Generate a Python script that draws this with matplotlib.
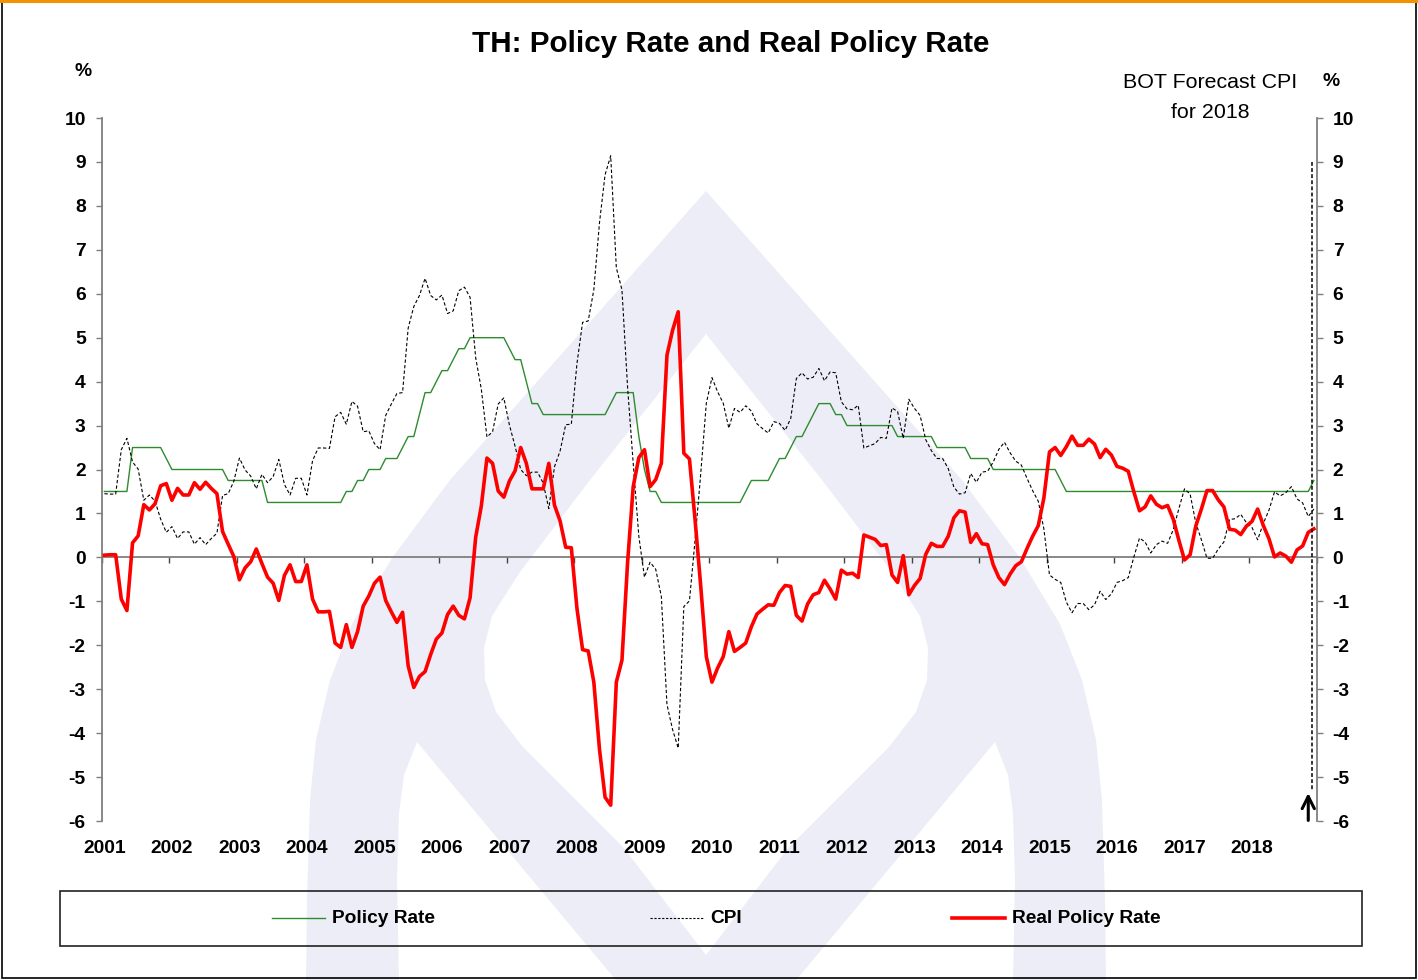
import numpy as np
import matplotlib
matplotlib.use("Agg")
import matplotlib.pyplot as plt
from matplotlib import font_manager as fm
from matplotlib import transforms
from matplotlib.patches import Polygon, Rectangle
from matplotlib.lines import Line2D

# ---------------- data (monthly, Jan 2001 - Dec 2018) ----------------
years = list(range(2001, 2019))

policy_rate = [
    1.5, 1.5, 1.5, 1.5, 1.5, 2.5, 2.5, 2.5, 2.5, 2.5, 2.5, 2.25,          # 2001
    2.0, 2.0, 2.0, 2.0, 2.0, 2.0, 2.0, 2.0, 2.0, 2.0, 1.75, 1.75,          # 2002
    1.75, 1.75, 1.75, 1.75, 1.75, 1.25, 1.25, 1.25, 1.25, 1.25, 1.25, 1.25,  # 2003
    1.25, 1.25, 1.25, 1.25, 1.25, 1.25, 1.25, 1.5, 1.5, 1.75, 1.75, 2.0,   # 2004
    2.0, 2.0, 2.25, 2.25, 2.25, 2.5, 2.75, 2.75, 3.25, 3.75, 3.75, 4.0,    # 2005
    4.25, 4.25, 4.5, 4.75, 4.75, 5.0, 5.0, 5.0, 5.0, 5.0, 5.0, 5.0,        # 2006
    4.75, 4.5, 4.5, 4.0, 3.5, 3.5, 3.25, 3.25, 3.25, 3.25, 3.25, 3.25,     # 2007
    3.25, 3.25, 3.25, 3.25, 3.25, 3.25, 3.5, 3.75, 3.75, 3.75, 3.75, 2.75,  # 2008
    2.0, 1.5, 1.5, 1.25, 1.25, 1.25, 1.25, 1.25, 1.25, 1.25, 1.25, 1.25,   # 2009
    1.25, 1.25, 1.25, 1.25, 1.25, 1.25, 1.5, 1.75, 1.75, 1.75, 1.75, 2.0,  # 2010
    2.25, 2.25, 2.5, 2.75, 2.75, 3.0, 3.25, 3.5, 3.5, 3.5, 3.25, 3.25,     # 2011
    3.0, 3.0, 3.0, 3.0, 3.0, 3.0, 3.0, 3.0, 3.0, 2.75, 2.75, 2.75,         # 2012
    2.75, 2.75, 2.75, 2.75, 2.5, 2.5, 2.5, 2.5, 2.5, 2.5, 2.25, 2.25,      # 2013
    2.25, 2.25, 2.0, 2.0, 2.0, 2.0, 2.0, 2.0, 2.0, 2.0, 2.0, 2.0,          # 2014
    2.0, 2.0, 1.75, 1.5, 1.5, 1.5, 1.5, 1.5, 1.5, 1.5, 1.5, 1.5,           # 2015
    1.5, 1.5, 1.5, 1.5, 1.5, 1.5, 1.5, 1.5, 1.5, 1.5, 1.5, 1.5,            # 2016
    1.5, 1.5, 1.5, 1.5, 1.5, 1.5, 1.5, 1.5, 1.5, 1.5, 1.5, 1.5,            # 2017
    1.5, 1.5, 1.5, 1.5, 1.5, 1.5, 1.5, 1.5, 1.5, 1.5, 1.5, 1.75,           # 2018
]

cpi = [
    1.45, 1.44, 1.44, 2.45, 2.71, 2.17, 2.01, 1.30, 1.42, 1.28, 0.87, 0.57,
    0.70, 0.43, 0.58, 0.58, 0.30, 0.45, 0.29, 0.43, 0.55, 1.41, 1.45, 1.73,
    2.26, 1.99, 1.85, 1.56, 1.89, 1.70, 1.84, 2.23, 1.66, 1.42, 1.80, 1.80,
    1.42, 2.20, 2.49, 2.49, 2.48, 3.20, 3.30, 3.03, 3.55, 3.44, 2.86, 2.88,
    2.59, 2.45, 3.23, 3.49, 3.73, 3.75, 5.22, 5.71, 5.96, 6.35, 5.96, 5.86,
    5.97, 5.55, 5.61, 6.07, 6.15, 5.92, 4.54, 3.83, 2.74, 2.86, 3.49, 3.63,
    3.01, 2.53, 2.00, 1.86, 1.94, 1.94, 1.69, 1.11, 2.06, 2.42, 3.02, 3.03,
    4.41, 5.35, 5.38, 6.09, 7.61, 8.71, 9.14, 6.59, 6.09, 3.87, 2.14, 0.48,
    -0.45, -0.11, -0.27, -0.89, -3.35, -3.92, -4.34, -1.12, -0.99, 0.40, 1.90, 3.51,
    4.09, 3.77, 3.51, 2.94, 3.39, 3.30, 3.45, 3.33, 3.04, 2.93, 2.83, 3.09,
    3.05, 2.89, 3.16, 4.07, 4.20, 4.06, 4.10, 4.30, 4.02, 4.22, 4.20, 3.54,
    3.38, 3.36, 3.46, 2.49, 2.54, 2.59, 2.73, 2.71, 3.40, 3.32, 2.71, 3.60,
    3.39, 3.23, 2.68, 2.43, 2.25, 2.25, 2.02, 1.60, 1.44, 1.47, 1.91, 1.71,
    1.94, 1.96, 2.17, 2.46, 2.62, 2.38, 2.19, 2.10, 1.80, 1.52, 1.28, 0.65,
    -0.40, -0.50, -0.57, -1.02, -1.26, -1.05, -1.05, -1.19, -1.08, -0.77, -0.96, -0.83,
    -0.57, -0.53, -0.46, 0.01, 0.44, 0.35, 0.10, 0.29, 0.37, 0.32, 0.63, 1.11,
    1.56, 1.44, 0.79, 0.40, -0.02, -0.02, 0.19, 0.35, 0.86, 0.88, 0.98, 0.79,
    0.68, 0.40, 0.77, 1.07, 1.49, 1.40, 1.47, 1.61, 1.33, 1.24, 0.93, 1.10,
]

real_policy_rate = [
    0.05, 0.06, 0.06, -0.95, -1.21, 0.33, 0.49, 1.20, 1.08, 1.22, 1.63, 1.68,
    1.30, 1.57, 1.42, 1.42, 1.70, 1.55, 1.71, 1.57, 1.45, 0.59, 0.30, 0.02,
    -0.51, -0.24, -0.10, 0.19, -0.14, -0.45, -0.59, -0.98, -0.41, -0.17, -0.55, -0.55,
    -0.17, -0.95, -1.24, -1.24, -1.23, -1.95, -2.05, -1.53, -2.05, -1.69, -1.11, -0.88,
    -0.59, -0.45, -0.98, -1.24, -1.48, -1.25, -2.47, -2.96, -2.71, -2.60, -2.21, -1.86,
    -1.72, -1.30, -1.11, -1.32, -1.40, -0.92, 0.46, 1.17, 2.26, 2.14, 1.51, 1.37,
    1.74, 1.97, 2.50, 2.14, 1.56, 1.56, 1.56, 2.14, 1.19, 0.83, 0.23, 0.22,
    -1.16, -2.10, -2.13, -2.84, -4.36, -5.46, -5.64, -2.84, -2.34, -0.12, 1.61, 2.27,
    2.45, 1.61, 1.77, 2.14, 4.60, 5.17, 5.59, 2.37, 2.24, 0.85, -0.65, -2.26,
    -2.84, -2.52, -2.26, -1.69, -2.14, -2.05, -1.95, -1.58, -1.29, -1.18, -1.08, -1.09,
    -0.80, -0.64, -0.66, -1.32, -1.45, -1.06, -0.85, -0.80, -0.52, -0.72, -0.95, -0.29,
    -0.38, -0.36, -0.46, 0.51, 0.46, 0.41, 0.27, 0.29, -0.40, -0.57, 0.04, -0.85,
    -0.64, -0.48, 0.07, 0.32, 0.25, 0.25, 0.48, 0.90, 1.06, 1.03, 0.34, 0.54,
    0.31, 0.29, -0.17, -0.46, -0.62, -0.38, -0.19, -0.10, 0.20, 0.48, 0.72, 1.35,
    2.40, 2.50, 2.32, 2.52, 2.76, 2.55, 2.55, 2.69, 2.58, 2.27, 2.46, 2.33,
    2.07, 2.03, 1.96, 1.49, 1.06, 1.15, 1.40, 1.21, 1.13, 1.18, 0.87, 0.39,
    -0.06, 0.06, 0.71, 1.10, 1.52, 1.52, 1.31, 1.15, 0.64, 0.62, 0.52, 0.71,
    0.82, 1.10, 0.73, 0.43, 0.01, 0.10, 0.03, -0.11, 0.17, 0.26, 0.57, 0.65,
]

yticks = list(range(-6, 11))
forecast_month = 214.6   # position of the "BOT Forecast CPI" marker (month index)

# ---------------- fonts ----------------
names = {f.name for f in fm.fontManager.ttflist}
if "Liberation Sans Narrow" in names:
    FAM, S = "Liberation Sans Narrow", 1.0
else:
    FAM, S = "Liberation Sans", 0.84
plt.rcParams["font.family"] = [FAM, "DejaVu Sans"]
plt.rcParams["axes.unicode_minus"] = False

W_PX, H_PX = 1418, 980
fig = plt.figure(figsize=(W_PX / 100, H_PX / 100), dpi=100)
fig.patch.set_facecolor("white")

# ---------------- watermark (background) ----------------
bg = fig.add_axes([0, 0, 1, 1], zorder=0)
bg.set_xlim(0, W_PX); bg.set_ylim(H_PX, 0); bg.axis("off")
LAV = "#ECEDF7"


def mirror(pts):
    return [(1412 - x, y) for x, y in reversed(pts)]


outer_left = [(706, 191), (450, 480), (392, 558), (352, 624), (330, 680),
              (316, 740), (310, 800), (307, 900), (306, 985)]
inner_left = [(706, 334), (590, 480), (520, 572), (492, 616), (484, 648),
              (485, 680), (496, 712), (523, 747), (623, 847), (706, 955)]
wedge_left = [(417, 742), (404, 775), (399, 813), (397, 880), (399, 985), (620, 985)]
bg.add_patch(Polygon(outer_left + mirror(outer_left), closed=True, fc=LAV, ec="none"))
bg.add_patch(Polygon(inner_left + mirror(inner_left), closed=True, fc="white", ec="none"))
bg.add_patch(Polygon(wedge_left, closed=True, fc="white", ec="none"))
bg.add_patch(Polygon([(1412 - x, y) for x, y in wedge_left], closed=True, fc="white", ec="none"))

# ---------------- main axes ----------------
left_px, right_px, top_px, bot_px = 101.6, 1316.7, 118, 821
ax = fig.add_axes([left_px / W_PX, 1 - bot_px / H_PX,
                   (right_px - left_px) / W_PX, (bot_px - top_px) / H_PX], zorder=2)
ax.set_facecolor("none")
months = np.arange(len(policy_rate))
ax.set_xlim(-0.5, len(policy_rate) - 0.5)
ax.set_ylim(-6, 10)

ax.plot(months, policy_rate, color="#2E8B2E", lw=1.0, zorder=3)
ax.plot(months, cpi, color="black", lw=0.8, dashes=(3, 2), zorder=3)
ax.plot(months, real_policy_rate, color="#FF0000", lw=2.6, zorder=4)

GRAY = "#7F7F7F"
ax.spines["top"].set_visible(False)
ax.spines["bottom"].set_position(("data", 0))
for s in ("bottom", "left", "right"):
    ax.spines[s].set_color(GRAY)
    ax.spines[s].set_linewidth(1.3)

ax.set_yticks(yticks)
ax.tick_params(axis="y", which="both", left=True, right=True, labelleft=True,
               labelright=True, direction="out", length=4, width=1.0, color=GRAY,
               pad=7.5, labelsize=16.5 * S)
for t in ax.yaxis.get_major_ticks():
    t.label1.set_fontweight("bold")
    t.label2.set_fontweight("bold")

ax.set_xticks([12 * k - 0.5 for k in range(len(years) + 1)])
ax.tick_params(axis="x", direction="out", length=4, width=1.0, color="#444444",
               labelbottom=False)

xform = transforms.blended_transform_factory(ax.transData, ax.transAxes)
for k, yr in enumerate(years):
    ax.text(12 * k, -0.0385, str(yr), transform=xform, ha="center", va="center",
            fontsize=16.5 * S, fontweight="bold")

# forecast marker
ax.plot([forecast_month, forecast_month], [9.0, -5.3], color="black", lw=1.1,
        dashes=(2.5, 1.5), zorder=5)
ax.annotate("", xy=(forecast_month - 0.6, -5.3), xytext=(forecast_month - 0.6, -6.05),
            arrowprops=dict(arrowstyle="->", lw=2.2, color="black", mutation_scale=22),
            annotation_clip=False, zorder=5)

# ---------------- overlay: texts, legend, border ----------------
ov = fig.add_axes([0, 0, 1, 1], zorder=3)
ov.set_xlim(0, W_PX); ov.set_ylim(H_PX, 0); ov.axis("off")
ov.set_facecolor("none")

ov.text(731, 44, "TH: Policy Rate and Real Policy Rate", ha="center", va="center",
        fontsize=25.4 * S, fontweight="bold")
ov.text(83, 72, "%", ha="center", va="center", fontsize=16.5 * S, fontweight="bold")
ov.text(1331, 81, "%", ha="center", va="center", fontsize=16.5 * S, fontweight="bold")
ov.text(1210, 82, "BOT Forecast CPI", ha="center", va="center", fontsize=18.3 * S)
ov.text(1210, 112, "for 2018", ha="center", va="center", fontsize=18.3 * S)

ov.add_patch(Rectangle((60, 891), 1302, 55, fc="none", ec="#222222", lw=1.2))
ly = 918
ov.add_line(Line2D([272, 325], [ly, ly], color="#2E8B2E", lw=1.0))
ov.add_line(Line2D([650, 703], [ly, ly], color="black", lw=0.8, dashes=(2, 1.5)))
ov.add_line(Line2D([952, 1005], [ly, ly], color="#FF0000", lw=2.6))
for x, txt in ((332, "Policy Rate"), (710, "CPI"), (1012, "Real Policy Rate")):
    ov.text(x, ly, txt, ha="left", va="center", fontsize=16.4 * S, fontweight="bold")

# frame
ov.add_patch(Rectangle((2, 2), W_PX - 4, H_PX - 4, fc="none", ec="black", lw=1.2))
ov.add_line(Line2D([0, W_PX], [1.2, 1.2], color="#F39200", lw=2.2))

fig.savefig("out.png", dpi=100, facecolor="white")
